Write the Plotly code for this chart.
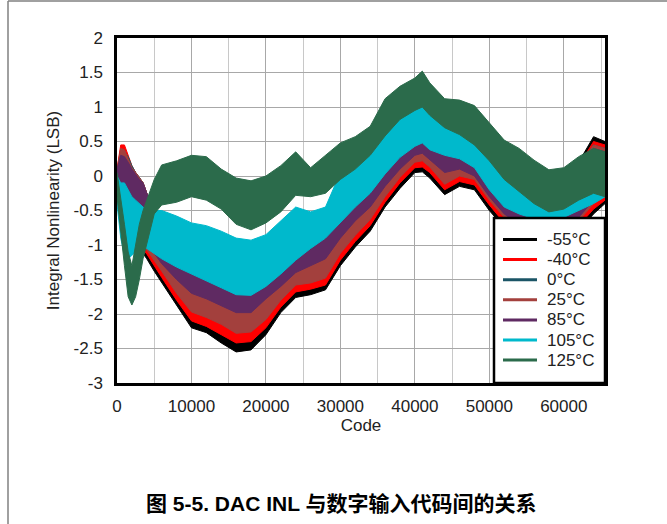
import plotly.graph_objects as go

# ---------------- data ----------------
CODES = [0, 500, 1000, 1500, 2000, 2500, 3000, 3500, 4000, 5000, 6000, 8000, 10000,
         12000, 14000, 16000, 18000, 20000, 22000, 24000, 26000, 28000, 30000, 32000,
         34000, 36000, 38000, 40000, 41000, 42000, 44000, 46000, 48000, 50000, 52000,
         54000, 56000, 58000, 60000, 62000, 64000, 65535]

TEMPS = ["-55°C", "-40°C", "0°C", "25°C", "85°C", "105°C", "125°C"]
COLORS = ["#000000", "#ff0000", "#1b5566", "#a3403d", "#5f2a62", "#00b9cc", "#2b6b4b"]

# upper / lower envelopes of the dense INL trace for each temperature
INL_M55_HI = [0.05, 0.35, 0.4, 0.25, 0.12, 0.05, -0.02, -0.1, -0.25, -0.5, -0.65, -0.95, -1.1,
              -1.2, -1.3, -1.4, -1.4, -1.2, -1.05, -0.9, -0.75, -0.6, -0.4, -0.15,
              0.05, 0.3, 0.55, 0.7, 0.75, 0.65, 0.55, 0.5, 0.35, 0.05, -0.15,
              -0.25, -0.3, -0.3, -0.2, 0.2, 0.57, 0.5]
INL_M55_LO = [-0.35, -0.5, -0.7, -0.85, -0.95, -1.0, -1.05, -1.12, -1.2, -1.38, -1.55, -1.87, -2.2,
              -2.27, -2.42, -2.55, -2.52, -2.3, -1.98, -1.76, -1.72, -1.65, -1.3, -1.03,
              -0.8, -0.45, -0.18, 0.05, 0.06, -0.03, -0.27, -0.15, -0.2, -0.5, -0.75,
              -0.9, -1.0, -1.0, -0.95, -0.8, -0.55, -0.4]

INL_M40_HI = [0.1, 0.45, 0.45, 0.3, 0.15, 0.05, -0.02, -0.1, -0.25, -0.5, -0.65, -0.95, -1.1,
              -1.2, -1.3, -1.4, -1.4, -1.2, -1.05, -0.9, -0.75, -0.6, -0.4, -0.15,
              0.05, 0.3, 0.55, 0.7, 0.75, 0.65, 0.55, 0.5, 0.35, 0.05, -0.15,
              -0.25, -0.3, -0.3, -0.2, 0.15, 0.5, 0.45]
INL_M40_LO = [-0.3, -0.45, -0.65, -0.8, -0.9, -0.95, -1.0, -1.07, -1.13, -1.3, -1.47, -1.8, -2.1,
              -2.18, -2.3, -2.42, -2.4, -2.2, -1.9, -1.68, -1.64, -1.58, -1.22, -0.95,
              -0.72, -0.38, -0.1, 0.12, 0.13, 0.05, -0.2, -0.08, -0.13, -0.42, -0.68,
              -0.82, -0.92, -0.92, -0.88, -0.72, -0.48, -0.35]

INL_0_HI = [0.05, 0.3, 0.35, 0.28, 0.15, 0.05, -0.02, -0.1, -0.25, -0.5, -0.65, -0.95, -1.1,
            -1.2, -1.3, -1.4, -1.4, -1.2, -1.05, -0.9, -0.75, -0.6, -0.4, -0.15,
            0.05, 0.3, 0.55, 0.7, 0.75, 0.65, 0.55, 0.5, 0.35, 0.05, -0.15,
            -0.25, -0.3, -0.3, -0.2, 0.15, 0.45, 0.4]
INL_0_LO = [-0.23, -0.38, -0.58, -0.73, -0.83, -0.88, -0.93, -0.98, -1.05, -1.2, -1.36, -1.68, -1.95,
            -2.02, -2.12, -2.25, -2.23, -2.05, -1.78, -1.56, -1.52, -1.45, -1.1, -0.84,
            -0.6, -0.28, 0.0, 0.22, 0.24, 0.15, -0.1, 0.02, -0.03, -0.33, -0.58,
            -0.73, -0.83, -0.83, -0.78, -0.63, -0.38, -0.28]

INL_25_HI = [0.1, 0.4, 0.38, 0.25, 0.12, 0.05, -0.02, -0.1, -0.25, -0.5, -0.65, -0.95, -1.1,
             -1.2, -1.3, -1.4, -1.4, -1.2, -1.05, -0.9, -0.75, -0.6, -0.4, -0.15,
             0.05, 0.3, 0.55, 0.7, 0.75, 0.65, 0.55, 0.5, 0.35, 0.05, -0.15,
             -0.25, -0.3, -0.3, -0.2, 0.15, 0.45, 0.4]
INL_25_LO = [-0.25, -0.4, -0.6, -0.75, -0.85, -0.9, -0.95, -1.0, -1.07, -1.22, -1.38, -1.7, -1.97,
             -2.05, -2.15, -2.28, -2.26, -2.08, -1.8, -1.58, -1.55, -1.48, -1.12, -0.86,
             -0.63, -0.3, -0.02, 0.2, 0.22, 0.13, -0.12, 0.0, -0.05, -0.35, -0.6,
             -0.75, -0.85, -0.85, -0.8, -0.65, -0.4, -0.3]

INL_85_HI = [0.1, 0.3, 0.28, 0.2, 0.1, 0.02, -0.05, -0.1, -0.25, -0.45, -0.6, -0.9, -1.05,
             -1.15, -1.25, -1.35, -1.35, -1.15, -1.0, -0.85, -0.7, -0.55, -0.35, -0.1,
             0.1, 0.35, 0.6, 0.75, 0.8, 0.7, 0.6, 0.55, 0.4, 0.1, -0.1,
             -0.2, -0.25, -0.25, -0.15, 0.1, 0.4, 0.35]
INL_85_LO = [-0.2, -0.35, -0.5, -0.6, -0.7, -0.78, -0.85, -0.92, -1.0, -1.12, -1.27, -1.5, -1.7,
             -1.78, -1.88, -1.98, -1.98, -1.78, -1.6, -1.4, -1.3, -1.2, -0.9, -0.65,
             -0.45, -0.15, 0.1, 0.3, 0.33, 0.24, 0.05, 0.1, 0.0, -0.3, -0.55,
             -0.7, -0.8, -0.8, -0.75, -0.6, -0.35, -0.25]

INL_105_HI = [0.0, -0.1, -0.1, -0.2, -0.3, -0.35, -0.4, -0.45, -0.5, -0.5, -0.5, -0.58, -0.68,
              -0.72, -0.8, -0.9, -0.93, -0.85, -0.65, -0.45, -0.52, -0.45, 0.05, 0.25,
              0.5, 0.75, 1.0, 1.1, 1.15, 1.05, 0.85, 0.75, 0.6, 0.35, 0.1,
              -0.1, -0.3, -0.4, -0.35, -0.2, -0.1, -0.1]
INL_105_LO = [-0.4, -0.9, -1.15, -1.2, -1.15, -1.1, -1.05, -1.03, -1.05, -1.12, -1.2, -1.32, -1.42,
              -1.52, -1.62, -1.72, -1.73, -1.6, -1.42, -1.22, -1.05, -0.9, -0.68, -0.45,
              -0.25, 0.03, 0.27, 0.43, 0.48, 0.38, 0.3, 0.25, 0.12, -0.2, -0.45,
              -0.55, -0.62, -0.65, -0.6, -0.5, -0.4, -0.3]

INL_125_HI = [0.05, -0.3, -0.7, -1.1, -1.3, -1.0, -0.7, -0.5, -0.35, -0.05, 0.16, 0.22, 0.3,
              0.28, 0.1, -0.03, -0.07, 0.0, 0.15, 0.35, 0.12, 0.3, 0.48, 0.57,
              0.72, 1.12, 1.3, 1.42, 1.52, 1.35, 1.12, 1.1, 1.02, 0.77, 0.52,
              0.4, 0.23, 0.09, 0.12, 0.28, 0.4, 0.35]
INL_125_LO = [-0.3, -0.8, -1.3, -1.75, -1.87, -1.75, -1.5, -1.2, -1.0, -0.55, -0.42, -0.38, -0.3,
              -0.35, -0.48, -0.7, -0.78, -0.68, -0.52, -0.28, -0.3, -0.25, -0.05, 0.1,
              0.3, 0.58, 0.82, 0.95, 1.0, 0.88, 0.7, 0.6, 0.45, 0.22, -0.05,
              -0.22, -0.4, -0.52, -0.48, -0.35, -0.25, -0.3]

HI = [INL_M55_HI, INL_M40_HI, INL_0_HI, INL_25_HI, INL_85_HI, INL_105_HI, INL_125_HI]
LO = [INL_M55_LO, INL_M40_LO, INL_0_LO, INL_25_LO, INL_85_LO, INL_105_LO, INL_125_LO]

X_TICKS = [0, 10000, 20000, 30000, 40000, 50000, 60000]
X_LABELS = ["0", "10000", "20000", "30000", "40000", "50000", "60000"]
Y_TICKS = [2, 1.5, 1, 0.5, 0, -0.5, -1, -1.5, -2, -2.5, -3]
Y_LABELS = ["2", "1.5", "1", "0.5", "0", "-0.5", "-1", "-1.5", "-2", "-2.5", "-3"]

TITLE = "图 5-5. DAC INL 与数字输入代码间的关系"

# ---------------- figure ----------------
FONT = "Liberation Sans, Arial, sans-serif"
W, H = 667, 524
L, R, T, B = 117, 62, 38, 141
PW, PH = W - L - R, H - T - B


def px_x(p):
    return (p - L) / PW


def px_y(p):
    return (H - B - p) / PH


fig = go.Figure()

for name, col, hi, lo in zip(TEMPS, COLORS, HI, LO):
    fig.add_trace(go.Scatter(
        x=CODES + CODES[::-1], y=hi + lo[::-1], name=name,
        mode="lines", fill="toself", fillcolor=col,
        line=dict(color=col, width=1), showlegend=False, hoverinfo="skip"))

fig.update_layout(
    width=W, height=H,
    margin=dict(l=L, r=R, t=T, b=B, pad=0),
    paper_bgcolor="white", plot_bgcolor="white",
    font=dict(family=FONT, size=17, color="#222"),
    showlegend=False,
)

fig.update_xaxes(
    range=[0, 65535], tickmode="array", tickvals=X_TICKS, ticktext=X_LABELS,
    showgrid=True, gridcolor="#a8a8a8", gridwidth=1,
    minor=dict(tickmode="linear", tick0=5000, dtick=10000, showgrid=True,
               gridcolor="#c8c8c8", gridwidth=1),
    showline=True, linecolor="black", linewidth=2.5, mirror=True,
    zeroline=False, ticks="", ticklabelstandoff=6,
    title=dict(text="Code", standoff=4, font=dict(size=17, family=FONT, color="#222")),
)
fig.update_yaxes(
    range=[-3, 2], tickmode="array", tickvals=Y_TICKS, ticktext=Y_LABELS,
    showgrid=True, gridcolor="#a8a8a8", gridwidth=1,
    showline=True, linecolor="black", linewidth=2.5, mirror=True,
    zeroline=False, ticks="", ticklabelstandoff=8,
    title=dict(text="Integral Nonlinearity (LSB)", standoff=10,
               font=dict(size=17, family=FONT, color="#222")),
)

# legend box (drawn by hand so its size matches the original)
fig.add_shape(type="rect", xref="paper", yref="paper", layer="above",
              x0=px_x(494), x1=px_x(605), y0=px_y(383), y1=px_y(218),
              fillcolor="white", line=dict(color="black", width=2.5))
for i, (name, col) in enumerate(zip(TEMPS, COLORS)):
    yy = 239.5 + 20.1 * i
    fig.add_shape(type="line", xref="paper", yref="paper", layer="above",
                  x0=px_x(503), x1=px_x(537), y0=px_y(yy), y1=px_y(yy),
                  line=dict(color=col, width=3))
    fig.add_annotation(text=name, xref="paper", yref="paper",
                       x=px_x(545), y=px_y(yy), xanchor="left", yanchor="middle",
                       showarrow=False, font=dict(family=FONT, size=17, color="#222"))

# title under the chart
fig.add_annotation(
    text="<b>" + TITLE + "</b>", xref="paper", yref="paper",
    x=px_x(341), y=px_y(503), xanchor="center", yanchor="middle", showarrow=False,
    font=dict(family="Liberation Sans, Noto Sans CJK SC, sans-serif", size=21, color="black"))

# outer page frame (top and left rules)
fig.add_shape(type="line", xref="paper", yref="paper",
              x0=px_x(8), x1=px_x(667), y0=px_y(1), y1=px_y(1),
              line=dict(color="#808080", width=1.5))
fig.add_shape(type="line", xref="paper", yref="paper",
              x0=px_x(8), x1=px_x(8), y0=px_y(1), y1=px_y(524),
              line=dict(color="#808080", width=1.5))

fig.write_html("out.html")
